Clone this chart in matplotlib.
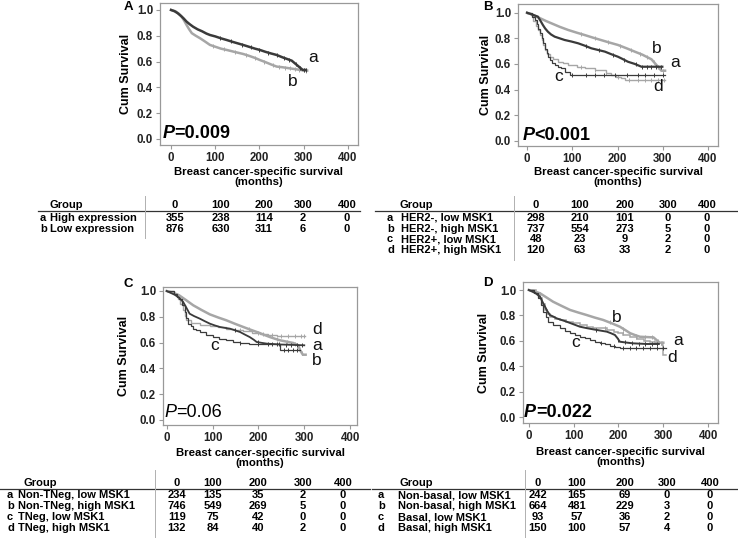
import numpy as np
import matplotlib.pyplot as plt
from matplotlib.lines import Line2D

plt.rcParams['font.family'] = ['Liberation Sans', 'DejaVu Sans']

DARK = '#3a3a3a'
LIGHT = '#a6a6a6'

# ---------------- Kaplan-Meier curves (months, cum survival) ----------------
# panel A
A_a_t = [0, 8, 15, 22, 28, 35, 42, 50, 60, 70, 80, 88, 100, 113, 126, 140, 152, 163, 176, 190, 201, 214, 226, 239, 252, 273, 298, 305]
A_a_s = [1.0, 0.99, 0.975, 0.955, 0.936, 0.91, 0.89, 0.87, 0.85, 0.835, 0.817, 0.806, 0.795, 0.78, 0.767, 0.752, 0.74, 0.729, 0.715, 0.70, 0.69, 0.675, 0.663, 0.651, 0.633, 0.607, 0.535, 0.535]
A_a_c = [110, 135, 160, 180, 200, 220, 240, 255, 268, 282, 292, 301, 305]
A_b_t = [0, 10, 18, 24, 30, 35, 41, 47, 56, 66, 77, 88, 100, 113, 126, 140, 152, 163, 176, 190, 201, 214, 226, 239, 252, 302, 308]
A_b_s = [1.0, 0.99, 0.97, 0.948, 0.915, 0.884, 0.85, 0.82, 0.80, 0.78, 0.755, 0.729, 0.715, 0.70, 0.69, 0.678, 0.668, 0.659, 0.645, 0.628, 0.612, 0.595, 0.578, 0.561, 0.556, 0.53, 0.53]
A_b_c = [95, 120, 145, 170, 190, 210, 230, 245, 258, 270, 280, 290, 300, 306]

# panel B
B_a_t = [0, 12, 24, 30, 35, 40, 46, 53, 61, 72, 83, 98, 113, 128, 142, 157, 172, 186, 201, 212, 223, 238, 253, 299]
B_a_s = [1.0, 0.985, 0.969, 0.935, 0.904, 0.877, 0.852, 0.83, 0.813, 0.80, 0.787, 0.775, 0.761, 0.742, 0.722, 0.709, 0.696, 0.676, 0.656, 0.637, 0.617, 0.60, 0.578, 0.578]
B_a_c = [130, 160, 190, 215, 240, 255, 265, 275, 285, 295]
B_b_t = [0, 15, 30, 42, 54, 72, 91, 109, 127, 145, 164, 182, 201, 220, 238, 255, 275, 297, 305]
B_b_s = [1.0, 0.98, 0.955, 0.935, 0.917, 0.89, 0.865, 0.845, 0.826, 0.806, 0.786, 0.767, 0.748, 0.722, 0.696, 0.672, 0.636, 0.547, 0.547]
B_b_c = [120, 150, 180, 205, 230, 250, 265, 280, 290, 300]
B_c_t = [0, 10, 17, 21, 25, 28, 32, 35, 39, 43, 47, 50, 55, 61, 68, 76, 84, 94, 305]
B_c_s = [1.0, 0.97, 0.943, 0.91, 0.875, 0.839, 0.80, 0.761, 0.72, 0.683, 0.655, 0.63, 0.61, 0.591, 0.578, 0.565, 0.539, 0.513, 0.513]
B_c_c = [100, 130, 150, 170, 195, 220, 245, 260, 280, 300]
B_d_t = [0, 8, 13, 20, 24, 28, 32, 36, 39, 44, 50, 58, 69, 80, 91, 110, 127, 150, 175, 186, 197, 208, 216, 305]
B_d_s = [1.0, 0.985, 0.935, 0.90, 0.865, 0.826, 0.787, 0.748, 0.709, 0.68, 0.656, 0.635, 0.617, 0.604, 0.591, 0.578, 0.565, 0.552, 0.53, 0.513, 0.50, 0.487, 0.474, 0.474]
B_d_c = [120, 150, 175, 200, 225, 245, 260, 275, 290, 302]

# panel C
C_a_t = [0, 18, 28, 36, 43, 50, 60, 72, 83, 94, 105, 116, 127, 138, 149, 160, 170, 181, 190, 196, 207, 218, 250, 300]
C_a_s = [1.0, 0.97, 0.945, 0.915, 0.87, 0.824, 0.805, 0.786, 0.766, 0.747, 0.733, 0.721, 0.714, 0.708, 0.695, 0.682, 0.663, 0.643, 0.622, 0.605, 0.598, 0.592, 0.585, 0.579]
C_a_c = [150, 200, 230, 245, 260, 272, 285, 295]
C_b_t = [0, 15, 27, 42, 58, 76, 94, 112, 130, 148, 167, 185, 203, 214, 225, 236, 247, 262, 276, 287, 291, 297, 303]
C_b_s = [1.0, 0.985, 0.967, 0.93, 0.889, 0.853, 0.819, 0.795, 0.773, 0.747, 0.721, 0.697, 0.674, 0.658, 0.643, 0.63, 0.618, 0.607, 0.597, 0.579, 0.54, 0.506, 0.506]
C_b_c = [180, 210, 240, 262, 280, 295]
C_c_t = [0, 15, 22, 27, 33, 39, 43, 47, 52, 58, 65, 72, 86, 101, 115, 130, 145, 160, 180, 203, 247, 291]
C_c_s = [1.0, 0.975, 0.955, 0.94, 0.89, 0.837, 0.79, 0.747, 0.725, 0.708, 0.695, 0.682, 0.662, 0.643, 0.63, 0.618, 0.607, 0.597, 0.592, 0.587, 0.54, 0.54]
C_c_c = [160, 200, 220, 240, 255, 265, 275, 285]
C_d_t = [0, 15, 25, 30, 36, 40, 43, 54, 72, 94, 112, 130, 148, 167, 185, 203, 222, 240, 302]
C_d_s = [1.0, 0.975, 0.94, 0.90, 0.85, 0.81, 0.773, 0.755, 0.739, 0.726, 0.717, 0.708, 0.697, 0.687, 0.678, 0.669, 0.662, 0.651, 0.651]
C_d_c = [160, 200, 230, 250, 265, 280, 292, 300]

# panel D
D_a_t = [0, 15, 25, 30, 36, 41, 47, 55, 62, 73, 84, 99, 114, 129, 144, 159, 174, 183, 192, 198, 203, 218, 233, 263, 290]
D_a_s = [1.0, 0.975, 0.947, 0.91, 0.869, 0.835, 0.803, 0.79, 0.777, 0.764, 0.751, 0.731, 0.711, 0.70, 0.69, 0.681, 0.672, 0.66, 0.646, 0.62, 0.593, 0.586, 0.58, 0.575, 0.575]
D_a_c = [150, 200, 215, 230, 245, 260, 275, 285]
D_b_t = [0, 12, 25, 40, 54, 73, 92, 110, 129, 147, 166, 185, 203, 215, 226, 237, 248, 278, 292, 300]
D_b_s = [1.0, 0.99, 0.974, 0.94, 0.908, 0.875, 0.843, 0.823, 0.803, 0.783, 0.764, 0.738, 0.711, 0.685, 0.66, 0.645, 0.632, 0.627, 0.585, 0.585]
D_b_c = [180, 210, 240, 260, 275, 288, 298]
D_c_t = [0, 12, 21, 27, 32, 38, 43, 54, 69, 80, 92, 103, 114, 126, 137, 148, 159, 170, 181, 192, 203, 230, 305]
D_c_s = [1.0, 0.98, 0.934, 0.88, 0.829, 0.79, 0.751, 0.724, 0.698, 0.678, 0.659, 0.645, 0.632, 0.619, 0.606, 0.593, 0.58, 0.571, 0.562, 0.554, 0.546, 0.54, 0.54]
D_c_c = [160, 190, 210, 225, 240, 255, 270, 285, 300]
D_d_t = [0, 15, 25, 30, 36, 41, 47, 58, 69, 84, 99, 114, 129, 144, 159, 174, 189, 200, 211, 226, 241, 256, 271, 284, 297, 300, 305]
D_d_s = [1.0, 0.975, 0.934, 0.89, 0.843, 0.815, 0.79, 0.775, 0.764, 0.751, 0.738, 0.724, 0.711, 0.704, 0.698, 0.685, 0.672, 0.66, 0.646, 0.63, 0.612, 0.602, 0.593, 0.58, 0.567, 0.49, 0.49]
D_d_c = [170, 210, 240, 260, 280, 295]

# ---------------- numbers at risk ----------------
time_cols = ['0', '100', '200', '300', '400']
A_groups = ['High expression', 'Low expression']
A_risk = [[355, 238, 114, 2, 0], [876, 630, 311, 6, 0]]
B_groups = ['HER2-, low MSK1', 'HER2-, high MSK1', 'HER2+, low MSK1', 'HER2+, high MSK1']
B_risk = [[298, 210, 101, 0, 0], [737, 554, 273, 5, 0], [48, 23, 9, 2, 0], [120, 63, 33, 2, 0]]
C_groups = ['Non-TNeg, low MSK1', 'Non-TNeg, high MSK1', 'TNeg, low MSK1', 'TNeg, high MSK1']
C_risk = [[234, 135, 35, 2, 0], [746, 549, 269, 5, 0], [119, 75, 42, 0, 0], [132, 84, 40, 2, 0]]
D_groups = ['Non-basal, low MSK1', 'Non-basal, high MSK1', 'Basal, low MSK1', 'Basal, high MSK1']
D_risk = [[242, 165, 69, 0, 0], [664, 481, 229, 3, 0], [93, 57, 36, 2, 0], [150, 100, 57, 4, 0]]
letters = ['a', 'b', 'c', 'd']

W, H = 738, 552
fig = plt.figure(figsize=(W / 100, H / 100), dpi=100)


def px_axes(l, t, r, b):
    return fig.add_axes([l / W, 1 - b / H, (r - l) / W, (b - t) / H])


def km(ax, t, s, cens, color, lw, steps=True):
    t = np.array(t, float)
    s = np.array(s, float)
    ds = 'steps-post' if steps else 'default'
    ax.plot(t, s, drawstyle=ds, color=color, lw=lw, solid_joinstyle='miter')
    c = np.array(cens, float)
    idx = np.searchsorted(t, c, side='right') - 1
    if steps:
        cy = s[idx]
    else:
        cy = np.interp(c, t, s)
    ax.plot(c, cy, ls='none', marker='|', ms=2.6, mew=0.7, color=color)


def style(ax, xlim, ylim, ylab_x, xlab_y):
    ax.set_xlim(*xlim)
    ax.set_ylim(*ylim)
    ax.set_xticks([0, 100, 200, 300, 400])
    ax.set_yticks([0, 0.2, 0.4, 0.6, 0.8, 1.0])
    ax.set_yticklabels(['%.1f' % v for v in [0, 0.2, 0.4, 0.6, 0.8, 1.0]])
    for sp in ax.spines.values():
        sp.set_color('#999999')
        sp.set_linewidth(0.9)
    ax.tick_params(length=3, width=0.8, color='#999999', labelsize=8.3, pad=2)
    for lab in ax.get_xticklabels() + ax.get_yticklabels():
        lab.set_fontweight('bold')
        lab.set_color('#222222')
    ax.set_ylabel('Cum Survival', fontsize=9, fontweight='bold')
    ax.yaxis.set_label_coords(ylab_x, 0.5)
    ax.set_xlabel('Breast cancer-specific survival\n(months)', fontsize=8.2,
                  fontweight='bold', linespacing=1.0, va='top')
    ax.xaxis.set_label_coords(0.5, xlab_y)


def pval(ax, x, y, rest, bold):
    w = 'bold' if bold else 'normal'
    t1 = ax.text(x, y, 'P', transform=ax.transAxes, fontsize=13, style='italic',
                 fontweight=w, va='bottom')
    ax.annotate(rest, xy=(1, 0), xycoords=t1, fontsize=13, fontweight=w, va='bottom', ha='left')


def tag(ax, t, s, txt):
    ax.text(t, s, txt, fontsize=12.5, ha='center', va='center', color='#111111')


def table(groups, risk, lx, nx, gx, cols, hy, rows, ly, lx0, lx1, sx, sy0, sy1):
    fs = 8
    fig.text(gx / W, 1 - hy / H, 'Group', fontsize=fs, fontweight='bold', va='center', ha='left')
    for cx, lab in zip(cols, time_cols):
        fig.text(cx / W, 1 - hy / H, lab, fontsize=fs, fontweight='bold', va='center', ha='center')
    for i, (g, r) in enumerate(zip(groups, risk)):
        y = 1 - rows[i] / H
        fig.text(lx / W, y, letters[i], fontsize=fs, fontweight='bold', va='center', ha='left')
        fig.text(nx / W, y, g, fontsize=fs, fontweight='bold', va='center', ha='left')
        for cx, v in zip(cols, r):
            fig.text(cx / W, y, str(v), fontsize=fs, fontweight='bold', va='center', ha='center')
    fig.add_artist(Line2D([lx0 / W, lx1 / W], [1 - ly / H, 1 - ly / H], color='#333333', lw=0.9))
    fig.add_artist(Line2D([sx / W, sx / W], [1 - sy0 / H, 1 - sy1 / H], color='#b0b0b0', lw=0.7))


# ---------------- panel A ----------------
axA = px_axes(160, 3, 358, 145)
km(axA, A_b_t, A_b_s, A_b_c, LIGHT, 1.8, steps=False)
km(axA, A_a_t, A_a_s, A_a_c, DARK, 1.8, steps=False)
style(axA, (-25, 423), (-0.047, 1.054), -0.141, -0.155)
pval(axA, 0.012, 0.02, '=0.009', True)
tag(axA, 321, 0.628, 'a')
tag(axA, 276, 0.445, 'b')
fig.text(128 / W, 1 - 7 / H, 'A', fontsize=9.5, fontweight='bold', ha='center', va='center')

# ---------------- panel B ----------------
axB = px_axes(518, 4, 718, 146)
km(axB, B_b_t, B_b_s, B_b_c, LIGHT, 1.8, steps=False)
km(axB, B_d_t, B_d_s, B_d_c, LIGHT, 1.0)
km(axB, B_a_t, B_a_s, B_a_c, DARK, 1.6, steps=False)
km(axB, B_c_t, B_c_s, B_c_c, DARK, 0.9)
style(axB, (-20, 422), (-0.041, 1.068), -0.13, -0.148)
pval(axB, 0.022, 0.015, '<0.001', True)
tag(axB, 287, 0.724, 'b')
tag(axB, 327, 0.615, 'a')
tag(axB, 69, 0.505, 'c')
tag(axB, 290, 0.42, 'd')
fig.text(488 / W, 1 - 7 / H, 'B', fontsize=9.5, fontweight='bold', ha='center', va='center')

# ---------------- panel C ----------------
axC = px_axes(163, 287, 357, 425)
km(axC, C_b_t, C_b_s, C_b_c, LIGHT, 1.8, steps=False)
km(axC, C_d_t, C_d_s, C_d_c, LIGHT, 1.0)
km(axC, C_a_t, C_a_s, C_a_c, DARK, 1.3, steps=False)
km(axC, C_c_t, C_c_s, C_c_c, DARK, 0.9)
style(axC, (-8, 415), (-0.039, 1.031), -0.17, -0.167)
pval(axC, 0.008, 0.03, '=0.06', False)
tag(axC, 328, 0.705, 'd')
tag(axC, 328, 0.58, 'a')
tag(axC, 328, 0.46, 'b')
tag(axC, 105, 0.581, 'c')
fig.text(128 / W, 1 - 284 / H, 'C', fontsize=9.5, fontweight='bold', ha='center', va='center')

# ---------------- panel D ----------------
axD = px_axes(523, 282, 718, 423)
km(axD, D_b_t, D_b_s, D_b_c, LIGHT, 1.8, steps=False)
km(axD, D_d_t, D_d_s, D_d_c, LIGHT, 1.1)
km(axD, D_a_t, D_a_s, D_a_c, DARK, 1.4, steps=False)
km(axD, D_c_t, D_c_s, D_c_c, DARK, 0.9)
style(axD, (-13, 422), (-0.047, 1.063), -0.169, -0.17)
pval(axD, 0.004, 0.012, '=0.022', True)
tag(axD, 197, 0.787, 'b')
tag(axD, 333, 0.606, 'a')
tag(axD, 320, 0.472, 'd')
tag(axD, 105, 0.59, 'c')
fig.text(488 / W, 1 - 283 / H, 'D', fontsize=9.5, fontweight='bold', ha='center', va='center')

# ---------------- risk tables ----------------
table(A_groups, A_risk, 40, 50, 50, [175, 221, 264, 303, 347], 205, [218, 228.5], 211, 38, 360, 145, 196, 238)
table(B_groups, B_risk, 387, 401, 400, [536, 580, 625, 668, 707], 205, [218, 228.5, 239, 249.5], 211, 375, 738, 514, 196, 260)
table(C_groups, C_risk, 7, 18, 23, [177, 213, 258, 303, 343], 483, [495, 506, 517, 528], 489, 0, 370, 155, 470, 537)
table(D_groups, D_risk, 378, 398, 400, [538, 577, 625, 667, 710], 483, [495, 506, 517, 528], 489, 372, 738, 525, 470, 537)

fig.savefig('out.png', dpi=100)
